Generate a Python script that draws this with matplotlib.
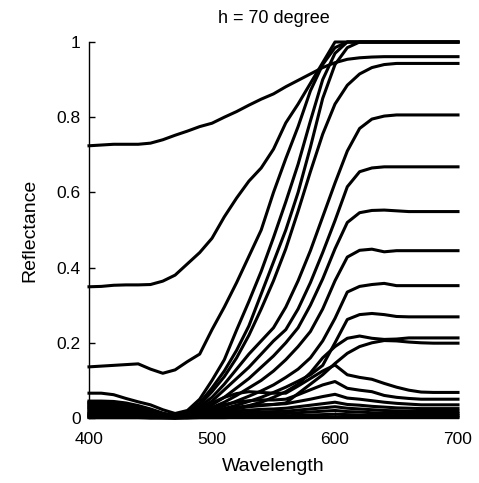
import matplotlib
matplotlib.use("Agg")
import matplotlib.pyplot as plt
import numpy as np

plt.rcParams['font.family'] = ['Liberation Sans', 'DejaVu Sans']

wavelength = list(range(400, 701, 10))

# reflectance curves (31 samples, 400..700 nm step 10)
curve_a = [.724, .726, .728, .728, .728, .731, .740, .752, .763, .775, .784, .800, .815, .832, .848, .862,
           .881, .898, .915, .932, .945, .954, .958, .960, .961, .961, .961, .961, .961, .961, .961]
curve_l2 = [.349, .350, .353, .354, .354, .355, .364, .380, .410, .440, .478, .535, .585, .630, .665, .715,
            .785, .835, .890, .945, 1.0, 1.0, 1.0, 1.0, 1.0, 1.0, 1.0, 1.0, 1.0, 1.0, 1.0]
curve_l3 = [.136, .138, .140, .142, .144, .130, .119, .128, .150, .170, .235, .295, .360, .430, .500, .600,
            .690, .775, .870, .940, .985, 1.0, 1.0, 1.0, 1.0, 1.0, 1.0, 1.0, 1.0, 1.0, 1.0]
curve_f1 = [.066, .066, .062, .052, .043, .035, .022, .012, .020, .050, .100, .155, .234, .310, .390, .480,
            .575, .675, .790, .900, .970, 1.0, 1.0, 1.0, 1.0, 1.0, 1.0, 1.0, 1.0, 1.0, 1.0]
curve_f2 = [.045, .045, .044, .040, .033, .024, .013, .006, .015, .040, .080, .125, .180, .245, .330, .415,
            .500, .600, .720, .850, .940, .985, 1.0, 1.0, 1.0, 1.0, 1.0, 1.0, 1.0, 1.0, 1.0]
curve_f3 = [.042, .042, .041, .037, .031, .022, .012, .005, .012, .035, .070, .110, .160, .220, .290, .365,
            .450, .550, .655, .755, .835, .885, .915, .932, .940, .943, .943, .943, .943, .943, .943]
curve_f4 = [.040, .040, .039, .035, .029, .021, .011, .005, .010, .030, .055, .090, .130, .170, .205, .240,
            .295, .365, .445, .535, .625, .710, .770, .795, .803, .806, .806, .806, .806, .806, .806]
curve_f5 = [.037, .037, .036, .033, .027, .019, .010, .004, .010, .025, .045, .075, .105, .135, .170, .205,
            .235, .290, .360, .440, .525, .615, .655, .665, .668, .668, .668, .668, .668, .668, .668]
curve_f6 = [.034, .034, .033, .030, .025, .018, .009, .004, .008, .020, .035, .055, .080, .105, .135, .165,
            .200, .240, .300, .370, .450, .520, .546, .552, .553, .551, .549, .549, .549, .549, .549]
curve_f7 = [.031, .031, .030, .027, .023, .016, .008, .003, .006, .016, .028, .042, .060, .080, .100, .125,
            .155, .190, .230, .290, .365, .428, .446, .449, .442, .445, .445, .445, .445, .445, .445]
curve_f8 = [.028, .028, .027, .025, .021, .015, .007, .003, .005, .013, .022, .032, .045, .058, .072, .088,
            .108, .130, .160, .205, .265, .335, .350, .355, .358, .352, .352, .352, .352, .352, .352]
curve_f9 = [.025, .025, .024, .022, .018, .013, .006, .003, .004, .010, .017, .025, .034, .044, .055, .068,
            .082, .098, .115, .140, .200, .262, .275, .278, .275, .270, .269, .269, .269, .269, .269]
curve_f10 = [.022, .022, .021, .019, .016, .011, .006, .002, .004, .008, .013, .018, .025, .033, .042, .055,
             .070, .090, .120, .160, .190, .212, .218, .212, .209, .210, .213, .213, .213, .213, .213]
curve_f11 = [.018, .018, .017, .016, .013, .009, .005, .002, .005, .010, .015, .020, .025, .030, .033, .036,
             .040, .065, .090, .115, .145, .172, .190, .200, .206, .205, .202, .200, .199, .199, .199]
curve_p1 = [.015, .015, .014, .013, .011, .008, .004, .002, .010, .025, .040, .055, .065, .070, .068, .066,
            .066, .085, .105, .125, .141, .115, .108, .103, .092, .082, .074, .069, .068, .068, .068]
curve_p2 = [.012, .012, .012, .011, .009, .006, .003, .001, .008, .018, .028, .036, .042, .046, .048, .048,
            .050, .062, .075, .088, .097, .079, .074, .070, .060, .055, .052, .050, .050, .050, .050]
curve_p3 = [.010, .010, .010, .009, .007, .005, .003, .001, .006, .012, .018, .024, .029, .032, .035, .036,
            .038, .044, .050, .057, .063, .053, .050, .046, .042, .039, .037, .035, .035, .035, .035]
curve_p4 = [.008, .008, .008, .007, .006, .004, .002, .001, .004, .008, .012, .016, .019, .021, .023, .024,
            .026, .030, .034, .038, .042, .036, .034, .031, .029, .027, .026, .025, .025, .025, .025]
curve_p5 = [.006, .006, .006, .005, .004, .003, .002, .001, .003, .006, .009, .011, .013, .015, .016, .017,
            .018, .021, .024, .027, .030, .026, .024, .022, .020, .019, .018, .018, .018, .018, .018]
curve_p6 = [.004, .004, .004, .004, .003, .002, .001, .000, .002, .004, .006, .007, .008, .009, .010, .011,
            .012, .014, .016, .018, .020, .017, .016, .014, .013, .012, .012, .012, .012, .012, .012]
curve_p7 = [.002, .002, .002, .002, .002, .001, .001, .000, .001, .002, .003, .004, .004, .005, .005, .006,
            .006, .007, .008, .009, .010, .009, .008, .007, .007, .006, .006, .006, .006, .006, .006]
curve_p8 = [.001, .001, .001, .001, .001, .000, .000, .000, .000, .001, .001, .001, .002, .002, .002, .002,
            .002, .002, .003, .003, .003, .003, .003, .002, .002, .002, .002, .002, .002, .002, .002]

curves = [curve_a, curve_l2, curve_l3, curve_f1, curve_f2, curve_f3, curve_f4, curve_f5, curve_f6,
          curve_f7, curve_f8, curve_f9, curve_f10, curve_f11, curve_p1, curve_p2, curve_p3, curve_p4,
          curve_p5, curve_p6, curve_p7, curve_p8]

x_ticks = [400, 500, 600, 700]
y_ticks = [0, 0.2, 0.4, 0.6, 0.8, 1]
y_tick_labels = ['0', '0.2', '0.4', '0.6', '0.8', '1']

fig = plt.figure(figsize=(4.79, 4.83), dpi=100)
ax = fig.add_axes([89 / 479, 65 / 483, 369 / 479, 376 / 483])

for c in curves:
    ax.plot(wavelength, c, color='black', lw=2.2, clip_on=False, solid_joinstyle='round')

ax.set_xlim(400, 700)
ax.set_ylim(0, 1)
ax.set_xticks(x_ticks)
ax.set_yticks(y_ticks)
ax.set_yticklabels(y_tick_labels)
ax.tick_params(direction='in', length=4, width=1, labelsize=12.5)
ax.tick_params(axis='x', pad=10)
ax.tick_params(axis='y', pad=6)
ax.spines['top'].set_visible(False)
ax.spines['right'].set_visible(False)
for s in ['left', 'bottom']:
    ax.spines[s].set_linewidth(1.0)

ax.set_xlabel('Wavelength', fontsize=14, labelpad=8)
ax.set_ylabel('Reflectance', fontsize=14, labelpad=13)
ax.set_title('h = 70 degree', fontsize=13, pad=14)

fig.savefig('out.png', dpi=100)
